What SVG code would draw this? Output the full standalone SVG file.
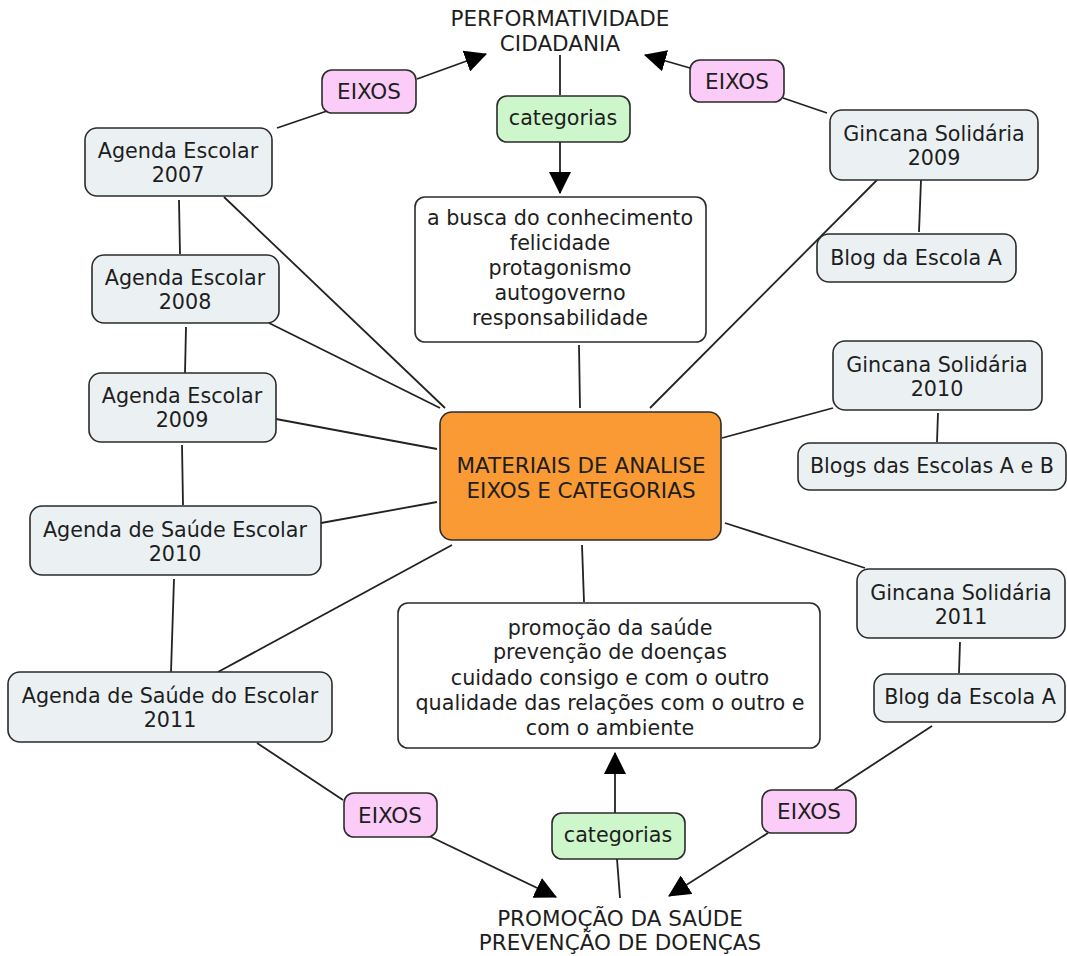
<svg xmlns="http://www.w3.org/2000/svg" width="1067" height="956" viewBox="0 0 1067 956">
<style>
text{font-family:"DejaVu Sans","Liberation Sans",sans-serif;font-size:20.7px;fill:#1e1e1e;text-anchor:middle;dominant-baseline:central}
text.caps{font-size:21.5px}
.n rect{stroke:#2b2b2b;stroke-width:1.6}
.doc rect{fill:#ebf1f3}
.eixo rect{fill:#fbccf7}
.cat rect{fill:#cdf7cb}
.box rect{fill:#ffffff}
.main rect{fill:#f99a35}
#connectors line{stroke:#222;stroke-width:1.8;fill:none}
</style>
<defs>
<marker id="ah" markerUnits="userSpaceOnUse" markerWidth="22" markerHeight="22" viewBox="0 0 20 20" refX="19" refY="10" orient="auto">
<path d="M0,0 L20,10 L0,20 z" fill="#000"/>
</marker>
</defs>
<rect width="1067" height="956" fill="#fff"/>
<g id="connectors">
<line x1="417" y1="79" x2="486" y2="54" marker-end="url(#ah)"/>
<line x1="690" y1="68" x2="645" y2="55" marker-end="url(#ah)"/>
<line x1="560" y1="55" x2="560" y2="95"/>
<line x1="560" y1="142" x2="560" y2="193" marker-end="url(#ah)"/>
<line x1="277" y1="128" x2="327" y2="111"/>
<line x1="827" y1="113" x2="783" y2="98"/>
<line x1="429" y1="836" x2="556" y2="897" marker-end="url(#ah)"/>
<line x1="768" y1="833" x2="669" y2="896" marker-end="url(#ah)"/>
<line x1="620" y1="898" x2="617" y2="859"/>
<line x1="615" y1="813" x2="615" y2="753" marker-end="url(#ah)"/>
<line x1="257" y1="743" x2="343" y2="800"/>
<line x1="932" y1="726" x2="834" y2="790"/>
<line x1="179" y1="200" x2="180" y2="254"/>
<line x1="224" y1="197" x2="445" y2="408"/>
<line x1="186" y1="327" x2="185" y2="373"/>
<line x1="269" y1="323" x2="440" y2="408"/>
<line x1="276" y1="419" x2="437" y2="449"/>
<line x1="182" y1="445" x2="183" y2="505"/>
<line x1="321" y1="523" x2="437" y2="502"/>
<line x1="174" y1="579" x2="171" y2="672"/>
<line x1="218" y1="672" x2="452" y2="545"/>
<line x1="579" y1="345" x2="580" y2="408"/>
<line x1="877" y1="180" x2="650" y2="408"/>
<line x1="921" y1="180" x2="919" y2="232"/>
<line x1="833" y1="408" x2="722" y2="438"/>
<line x1="938" y1="413" x2="937" y2="442"/>
<line x1="865" y1="568" x2="725" y2="523"/>
<line x1="960" y1="642" x2="959" y2="673"/>
<line x1="582" y1="545" x2="584" y2="602"/>
</g>
<g id="performatividade"><text class="caps" x="560" y="18">PERFORMATIVIDADE</text><text class="caps" x="560" y="43">CIDADANIA</text></g>
<g id="promocao"><text class="caps" x="620" y="918">PROMOÇÃO DA SAÚDE</text><text class="caps" x="620" y="942">PREVENÇÃO DE DOENÇAS</text></g>
<g id="eixos-tl" class="n eixo"><rect x="322" y="70" width="94" height="43" rx="10"/><text class="caps" x="369" y="91">EIXOS</text></g>
<g id="eixos-tr" class="n eixo"><rect x="690" y="60" width="94" height="42" rx="10"/><text class="caps" x="737" y="81">EIXOS</text></g>
<g id="eixos-bl" class="n eixo"><rect x="344" y="793" width="93" height="44" rx="10"/><text class="caps" x="390" y="815">EIXOS</text></g>
<g id="eixos-br" class="n eixo"><rect x="762" y="790" width="94" height="43" rx="10"/><text class="caps" x="809" y="811">EIXOS</text></g>
<g id="cat-top" class="n cat"><rect x="497" y="96" width="133" height="46" rx="10"/><text x="563" y="118">categorias</text></g>
<g id="cat-bottom" class="n cat"><rect x="552" y="813" width="133" height="46" rx="10"/><text x="618" y="835">categorias</text></g>
<g id="box-top" class="n box"><rect x="415" y="197" width="291" height="145" rx="10"/>
<text x="560" y="218">a busca do conhecimento</text><text x="560" y="243">felicidade</text><text x="560" y="268">protagonismo</text><text x="560" y="293">autogoverno</text><text x="560" y="318">responsabilidade</text></g>
<g id="box-bottom" class="n box"><rect x="398" y="603" width="422" height="145" rx="10"/>
<text x="610" y="628">promoção da saúde</text><text x="610" y="652">prevenção de doenças</text><text x="610" y="678">cuidado consigo e com o outro</text><text x="610" y="703">qualidade das relações com o outro e</text><text x="610" y="728">com o ambiente</text></g>
<g id="central" class="n main"><rect x="440" y="412" width="281" height="128" rx="12"/><text class="caps" x="581" y="465">MATERIAIS DE ANALISE</text><text class="caps" x="581" y="490">EIXOS E CATEGORIAS</text></g>
<g id="agenda-2007" class="n doc"><rect x="85" y="128" width="187" height="68" rx="12"/><text x="178" y="151">Agenda Escolar</text><text x="178" y="175">2007</text></g>
<g id="agenda-2008" class="n doc"><rect x="92" y="255" width="187" height="68" rx="12"/><text x="185" y="278">Agenda Escolar</text><text x="185" y="302">2008</text></g>
<g id="agenda-2009" class="n doc"><rect x="89" y="373" width="187" height="69" rx="12"/><text x="182" y="396">Agenda Escolar</text><text x="182" y="420">2009</text></g>
<g id="agenda-2010" class="n doc"><rect x="30" y="506" width="291" height="69" rx="12"/><text x="175" y="530">Agenda de Saúde Escolar</text><text x="175" y="554">2010</text></g>
<g id="agenda-2011" class="n doc"><rect x="8" y="672" width="324" height="70" rx="12"/><text x="170" y="696">Agenda de Saúde do Escolar</text><text x="170" y="720">2011</text></g>
<g id="gincana-2009" class="n doc"><rect x="830" y="110" width="208" height="70" rx="12"/><text x="934" y="134">Gincana Solidária</text><text x="934" y="158">2009</text></g>
<g id="blog-2009" class="n doc"><rect x="817" y="234" width="199" height="48" rx="12"/><text x="916" y="258">Blog da Escola A</text></g>
<g id="gincana-2010" class="n doc"><rect x="833" y="341" width="209" height="69" rx="12"/><text x="937" y="365">Gincana Solidária</text><text x="937" y="389">2010</text></g>
<g id="blogs-2010" class="n doc"><rect x="798" y="443" width="268" height="47" rx="12"/><text x="932" y="466">Blogs das Escolas A e B</text></g>
<g id="gincana-2011" class="n doc"><rect x="857" y="569" width="208" height="69" rx="12"/><text x="961" y="593">Gincana Solidária</text><text x="961" y="617">2011</text></g>
<g id="blog-2011" class="n doc"><rect x="874" y="674" width="191" height="48" rx="12"/><text x="970" y="697">Blog da Escola A</text></g>
</svg>
